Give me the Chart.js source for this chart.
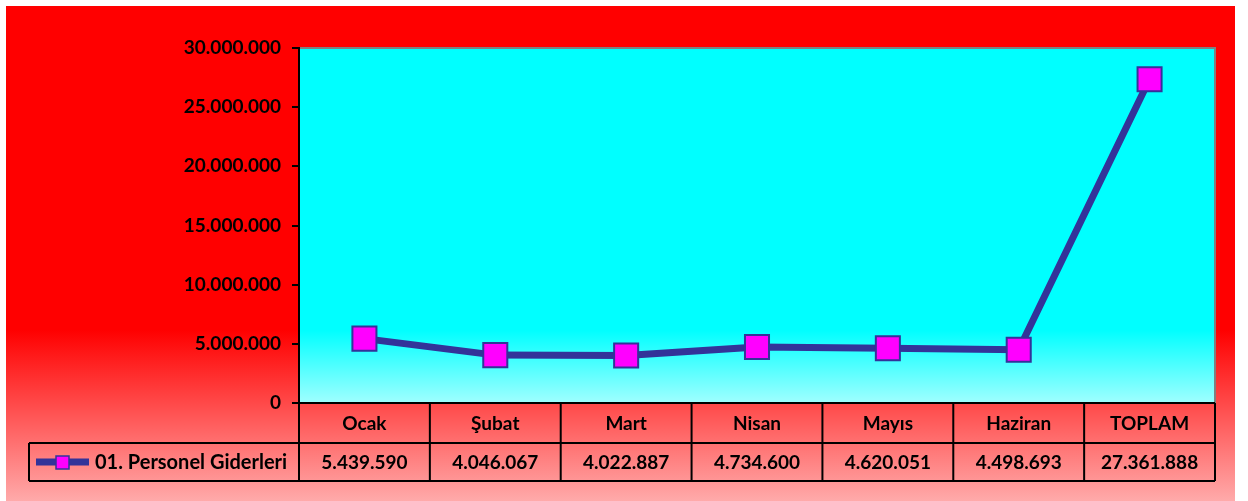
<!DOCTYPE html>
<html>
<head>
<meta charset="utf-8">
<script src="https://cdn.jsdelivr.net/npm/chart.js@4/dist/chart.umd.min.js"></script>
<style>
  html, body { margin: 0; padding: 0; background: #fff; }
  #wrap { width: 1248px; height: 501px; }
</style>
</head>
<body>
<div id="wrap"><canvas id="myChart" width="1248" height="501"></canvas></div>
<script>
const categories = ['Ocak', 'Şubat', 'Mart', 'Nisan', 'Mayıs', 'Haziran', 'TOPLAM']
const seriesName = '01. Personel Giderleri'
const personelValues = [5439590, 4046067, 4022887, 4734600, 4620051, 4498693, 27361888]
const yTicks = [0, 5000000, 10000000, 15000000, 20000000, 25000000, 30000000]

const FONT = 'Lato, "Open Sans", sans-serif'
const LINE_COLOR = '#333399'
const MARKER_COLOR = '#FF00FF'

// 27361888 -> 27.361.888
const fmt = (n) => String(n).replace(/\B(?=(\d{3})+(?!\d))/g, '.')

// background, plot fill, table and legend drawn around the chart
const decor = {
  id: 'decor',
  beforeDraw(chart) {
    const { ctx, chartArea: a } = chart
    ctx.save()
    // outer red -> pink background
    const bg = ctx.createLinearGradient(0, 330, 0, 501)
    bg.addColorStop(0, '#FF0000')
    bg.addColorStop(1, '#FFAAAA')
    ctx.fillStyle = bg
    ctx.fillRect(6, 6, 1229, 495)
    // plot area cyan
    const pg = ctx.createLinearGradient(0, 330, 0, a.bottom)
    pg.addColorStop(0, '#00FFFF')
    pg.addColorStop(1, '#A0FFFF')
    ctx.fillStyle = pg
    ctx.fillRect(a.left, a.top, a.right - a.left, a.bottom - a.top)
    // grey frame top/right
    ctx.strokeStyle = '#808080'
    ctx.lineWidth = 2
    ctx.beginPath()
    ctx.moveTo(a.left, a.top)
    ctx.lineTo(a.right, a.top)
    ctx.lineTo(a.right, a.bottom)
    ctx.stroke()
    ctx.restore()
  },
  afterDraw(chart) {
    const { ctx, chartArea: a } = chart
    const x = chart.scales.x
    const rowH = [a.bottom, 443, 481]
    const colW = (a.right - a.left) / categories.length
    ctx.save()
    ctx.strokeStyle = '#000'
    ctx.lineWidth = 2
    ctx.beginPath()
    ctx.moveTo(a.left, rowH[0]); ctx.lineTo(a.right, rowH[0])
    ctx.moveTo(29, rowH[1]); ctx.lineTo(a.right, rowH[1])
    ctx.moveTo(29, rowH[2]); ctx.lineTo(a.right, rowH[2])
    ctx.moveTo(29, rowH[1]); ctx.lineTo(29, rowH[2])
    for (let i = 0; i <= categories.length; i++) {
      const cx = a.left + i * colW
      ctx.moveTo(cx, rowH[0]); ctx.lineTo(cx, rowH[2])
    }
    ctx.stroke()

    ctx.fillStyle = '#000'
    ctx.font = 'bold 19px ' + FONT
    ctx.textAlign = 'center'
    ctx.textBaseline = 'middle'
    categories.forEach((c, i) => {
      const px = x.getPixelForValue(i)
      ctx.fillText(c, px, (rowH[0] + rowH[1]) / 2 + 1)
      ctx.fillText(fmt(personelValues[i]), px, (rowH[1] + rowH[2]) / 2 + 1)
    })

    // legend key
    const ly = (rowH[1] + rowH[2]) / 2
    ctx.strokeStyle = LINE_COLOR
    ctx.lineWidth = 7
    ctx.beginPath()
    ctx.moveTo(36, ly); ctx.lineTo(89, ly)
    ctx.stroke()
    ctx.fillStyle = MARKER_COLOR
    ctx.fillRect(56, ly - 6, 13, 13)
    ctx.strokeStyle = LINE_COLOR
    ctx.lineWidth = 1.5
    ctx.strokeRect(56, ly - 6, 13, 13)
    ctx.fillStyle = '#000'
    ctx.textAlign = 'left'
    ctx.font = 'bold 20px ' + FONT
    ctx.fillText(seriesName, 95, ly + 1)
    ctx.restore()
  }
}

new Chart(document.getElementById('myChart'), {
  type: 'line',
  data: {
    labels: categories,
    datasets: [{
      label: seriesName,
      data: personelValues,
      borderColor: LINE_COLOR,
      borderWidth: 7,
      tension: 0,
      pointStyle: 'rect',
      pointRadius: 17,
      pointHoverRadius: 17,
      pointBackgroundColor: MARKER_COLOR,
      pointBorderColor: LINE_COLOR,
      pointBorderWidth: 2
    }]
  },
  options: {
    responsive: false,
    animation: false,
    layout: { padding: { top: 48, right: 33, bottom: 98, left: 0 } },
    plugins: { legend: { display: false }, tooltip: { enabled: false } },
    scales: {
      x: { display: false, offset: true },
      y: {
        min: 0,
        max: 30000000,
        afterFit(scale) { scale.width = 299 },
        afterBuildTicks(scale) { scale.ticks = yTicks.map(v => ({ value: v })) },
        border: { color: '#000', width: 2 },
        grid: { drawOnChartArea: false, color: '#000', lineWidth: 2, tickLength: 7 },
        ticks: {
          padding: 11,
          color: '#000',
          font: { family: FONT, size: 19, weight: 'bold' },
          callback: (v) => fmt(v)
        }
      }
    }
  },
  plugins: [decor]
})
</script>
</body>
</html>
